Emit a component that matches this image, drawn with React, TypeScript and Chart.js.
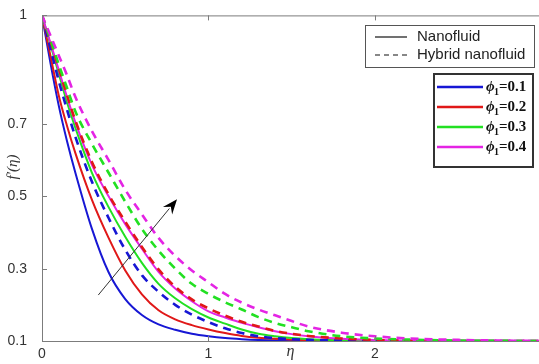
import React, { useEffect, useRef } from 'react';
import { Chart, registerables } from 'chart.js';

Chart.register(...registerables);

// ---- data ----
const eta = [0, 0.05, 0.1, 0.15, 0.2, 0.3, 0.4, 0.5, 0.6, 0.7, 0.8, 0.9, 1.0, 1.1, 1.2, 1.3, 1.4, 1.5, 1.6, 1.8, 2.0, 2.2, 2.5, 3.0];

const nanoPhi01 = [1, 0.87, 0.752, 0.653, 0.566, 0.41, 0.29, 0.216, 0.172, 0.146, 0.131, 0.12, 0.113, 0.108, 0.105, 0.103, 0.102, 0.101, 0.1, 0.1, 0.1, 0.1, 0.1, 0.1];
const nanoPhi02 = [1, 0.89, 0.78, 0.695, 0.62, 0.49, 0.385, 0.295, 0.229, 0.185, 0.16, 0.144, 0.132, 0.122, 0.114, 0.109, 0.106, 0.104, 0.102, 0.101, 0.1, 0.1, 0.1, 0.1];
const nanoPhi03 = [1, 0.92, 0.84, 0.76, 0.69, 0.565, 0.47, 0.388, 0.316, 0.258, 0.218, 0.188, 0.165, 0.148, 0.132, 0.12, 0.113, 0.108, 0.105, 0.102, 0.1, 0.1, 0.1, 0.1];
const nanoPhi04 = [1, 0.925, 0.85, 0.775, 0.705, 0.587, 0.5, 0.423, 0.355, 0.291, 0.245, 0.21, 0.182, 0.165, 0.15, 0.138, 0.127, 0.119, 0.113, 0.106, 0.103, 0.101, 0.1, 0.1];

const hybridPhi01 = [1, 0.91, 0.82, 0.74, 0.665, 0.54, 0.44, 0.352, 0.282, 0.236, 0.2, 0.173, 0.152, 0.135, 0.122, 0.113, 0.108, 0.105, 0.103, 0.101, 0.1, 0.1, 0.1, 0.1];
const hybridPhi02 = [1, 0.93, 0.855, 0.78, 0.71, 0.595, 0.505, 0.43, 0.36, 0.298, 0.25, 0.215, 0.19, 0.17, 0.153, 0.14, 0.128, 0.12, 0.114, 0.107, 0.103, 0.101, 0.1, 0.1];
const hybridPhi03 = [1, 0.935, 0.865, 0.8, 0.735, 0.645, 0.565, 0.485, 0.41, 0.35, 0.3, 0.258, 0.23, 0.207, 0.187, 0.166, 0.15, 0.138, 0.127, 0.113, 0.107, 0.104, 0.101, 0.1];
const hybridPhi04 = [1, 0.945, 0.89, 0.835, 0.775, 0.68, 0.6, 0.518, 0.45, 0.385, 0.335, 0.295, 0.262, 0.23, 0.206, 0.187, 0.171, 0.155, 0.14, 0.123, 0.113, 0.107, 0.103, 0.1];

const phiLabels = ['0.1', '0.2', '0.3', '0.4'];
const typeLabels = ['Nanofluid', 'Hybrid nanofluid'];
const xTicks = [0, 1, 2];
const yTicks = [0.1, 0.3, 0.5, 0.7, 1];
const xLabel = 'η';
const yLabel = "f′(η)";

const nanoSeries = [nanoPhi01, nanoPhi02, nanoPhi03, nanoPhi04];
const hybridSeries = [hybridPhi01, hybridPhi02, hybridPhi03, hybridPhi04];
const colors = ['#1717d4', '#e01818', '#22e022', '#e424e4'];

const toPoints = (ys: number[]) => eta.map((x, i) => ({ x, y: ys[i] }));

const decorPlugin = {
  id: 'decor',
  afterDatasetsDraw(chart: any) {
    const ctx = chart.ctx as CanvasRenderingContext2D;
    const { left, right, top, bottom } = chart.chartArea;
    const xs = chart.scales.x;
    const ys = chart.scales.y;
    ctx.save();
    // frame
    ctx.strokeStyle = '#7c7c7c';
    ctx.lineWidth = 1;
    ctx.beginPath();
    ctx.moveTo(left + 0.5, top + 0.5);
    ctx.lineTo(right, top + 0.5);
    ctx.moveTo(left + 0.5, top);
    ctx.lineTo(left + 0.5, bottom + 0.5);
    ctx.lineTo(right, bottom + 0.5);
    ctx.stroke();
    // inward ticks
    ctx.beginPath();
    xTicks.forEach((v) => {
      const px = Math.round(xs.getPixelForValue(v)) + 0.5;
      ctx.moveTo(px, bottom);
      ctx.lineTo(px, bottom - 5);
      ctx.moveTo(px, top);
      ctx.lineTo(px, top + 5);
    });
    yTicks.forEach((v) => {
      const py = Math.round(ys.getPixelForValue(v)) + 0.5;
      ctx.moveTo(left, py);
      ctx.lineTo(left + 5, py);
    });
    ctx.stroke();

    // arrow (data coords)
    const ax0 = xs.getPixelForValue(0.338), ay0 = ys.getPixelForValue(0.227);
    const ax1 = xs.getPixelForValue(0.811), ay1 = ys.getPixelForValue(0.492);
    const ang = Math.atan2(ay1 - ay0, ax1 - ax0);
    const hl = 15, hw = 6;
    ctx.strokeStyle = '#333';
    ctx.lineWidth = 1;
    ctx.beginPath();
    ctx.moveTo(ax0, ay0);
    ctx.lineTo(ax1 - Math.cos(ang) * hl * 0.8, ay1 - Math.sin(ang) * hl * 0.8);
    ctx.stroke();
    ctx.fillStyle = '#000';
    ctx.beginPath();
    ctx.moveTo(ax1, ay1);
    const bx = ax1 - Math.cos(ang) * hl, by = ay1 - Math.sin(ang) * hl;
    const mx = ax1 - Math.cos(ang) * hl * 0.65, my = ay1 - Math.sin(ang) * hl * 0.65;
    ctx.lineTo(bx + Math.sin(ang) * hw, by - Math.cos(ang) * hw);
    ctx.lineTo(mx, my);
    ctx.lineTo(bx - Math.sin(ang) * hw, by + Math.cos(ang) * hw);
    ctx.closePath();
    ctx.fill();

    // axis labels
    ctx.fillStyle = '#333';
    ctx.font = 'italic 16px "Liberation Serif"';
    ctx.textAlign = 'center';
    ctx.textBaseline = 'middle';
    ctx.fillText(xLabel, (left + right) / 2, 352);
    ctx.save();
    ctx.translate(13, 167);
    ctx.rotate(-Math.PI / 2);
    ctx.font = 'italic 15px "Liberation Serif"';
    ctx.fillText(yLabel, 0, 0);
    ctx.restore();

    // legend box 1 (line styles)
    ctx.fillStyle = '#fff';
    ctx.fillRect(365, 25, 170, 42);
    ctx.strokeStyle = '#555';
    ctx.lineWidth = 1;
    ctx.strokeRect(365.5, 25.5, 169, 42);
    ctx.strokeStyle = '#111';
    ctx.lineWidth = 1.2;
    ctx.beginPath();
    ctx.moveTo(375, 37);
    ctx.lineTo(407, 37);
    ctx.stroke();
    ctx.setLineDash([5, 4]);
    ctx.beginPath();
    ctx.moveTo(375, 55);
    ctx.lineTo(409, 55);
    ctx.stroke();
    ctx.setLineDash([]);
    ctx.fillStyle = '#222';
    ctx.font = '15px "Liberation Sans"';
    ctx.textAlign = 'left';
    ctx.fillText(typeLabels[0], 417, 37);
    ctx.fillText(typeLabels[1], 417, 55);

    // legend box 2 (phi values)
    ctx.fillStyle = '#fff';
    ctx.fillRect(434, 74, 99, 93);
    ctx.strokeStyle = '#333';
    ctx.lineWidth = 2;
    ctx.strokeRect(434, 74, 99, 93);
    phiLabels.forEach((lab, i) => {
      const y = 87 + i * 20;
      ctx.strokeStyle = colors[i];
      ctx.lineWidth = 2.5;
      ctx.beginPath();
      ctx.moveTo(437, y);
      ctx.lineTo(483, y);
      ctx.stroke();
      ctx.fillStyle = '#111';
      ctx.textAlign = 'left';
      ctx.textBaseline = 'middle';
      ctx.font = 'italic bold 15px "Liberation Serif"';
      ctx.fillText('ϕ', 486, y);
      ctx.font = 'bold 10px "Liberation Serif"';
      ctx.fillText('1', 494, y + 5);
      ctx.font = 'bold 15px "Liberation Serif"';
      ctx.fillText('=' + lab, 499, y);
    });
    ctx.restore();
  },
};

export default function App() {
  const ref = useRef<HTMLCanvasElement | null>(null);
  useEffect(() => {
    if (!ref.current) return;
    const datasets: any[] = [];
    for (let i = 3; i >= 0; i--) {
      datasets.push({
        label: 'Hybrid phi=' + phiLabels[i],
        data: toPoints(hybridSeries[i]),
        borderColor: colors[i],
        borderWidth: 2.6,
        borderDash: [8, 6],
        pointRadius: 0,
        fill: false,
        cubicInterpolationMode: 'monotone',
      });
    }
    for (let i = 3; i >= 0; i--) {
      datasets.push({
        label: 'Nano phi=' + phiLabels[i],
        data: toPoints(nanoSeries[i]),
        borderColor: colors[i],
        borderWidth: 2,
        pointRadius: 0,
        fill: false,
        cubicInterpolationMode: 'monotone',
      });
    }
    const chart = new Chart(ref.current, {
      type: 'line',
      data: { datasets },
      options: {
        animation: false,
        responsive: false,
        layout: { padding: { top: 15, left: 0, right: 0, bottom: 0 } },
        plugins: { legend: { display: false }, tooltip: { enabled: false } },
        scales: {
          x: {
            type: 'linear',
            min: 0,
            max: 2.985,
            grid: { display: false },
            border: { display: false },
            afterBuildTicks: (s: any) => { s.ticks = xTicks.map((v) => ({ value: v })); },
            afterFit: (s: any) => { s.height = 23; },
            ticks: {
              color: '#333',
              padding: -3,
              maxRotation: 0,
              font: { family: 'Liberation Sans', size: 14 },
              callback: (v: any) => String(v),
            },
          },
          y: {
            type: 'linear',
            min: 0.1,
            max: 1,
            grid: { display: false },
            border: { display: false },
            afterBuildTicks: (s: any) => { s.ticks = yTicks.map((v) => ({ value: v })); },
            afterFit: (s: any) => { s.width = 42; },
            ticks: {
              color: '#333',
              padding: 7,
              font: { family: 'Liberation Sans', size: 14 },
              callback: (v: any) => String(v),
            },
          },
        },
      },
      plugins: [decorPlugin],
    });
    return () => chart.destroy();
  }, []);
  return (
    <div style={{ position: 'fixed', left: 0, top: 0, width: 539, height: 364, background: '#fff' }}>
      <canvas ref={ref} width={539} height={364} style={{ display: 'block' }} />
    </div>
  );
}
